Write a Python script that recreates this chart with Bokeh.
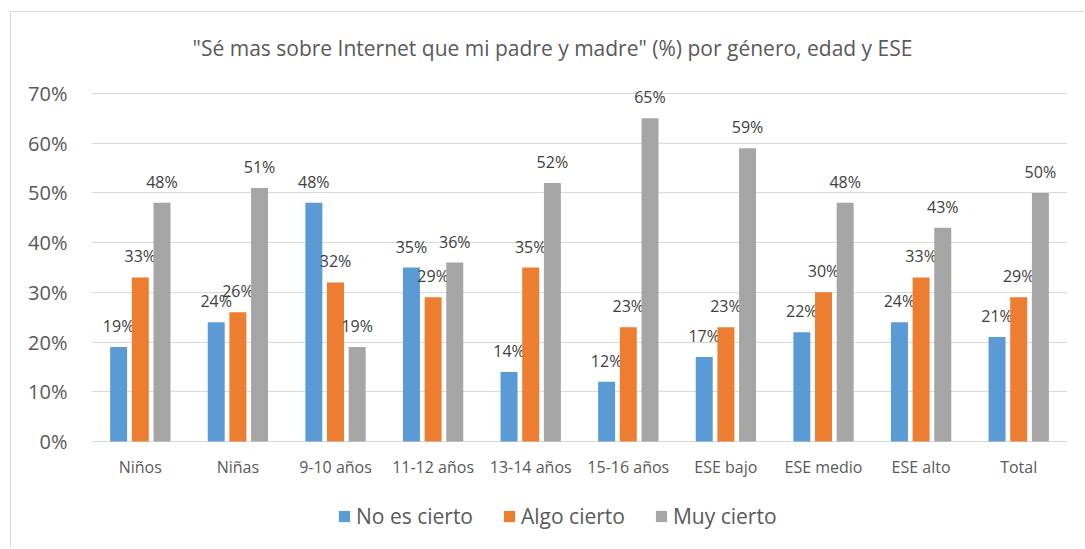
from bokeh.plotting import figure
from bokeh.models import (ColumnDataSource, FactorRange, Legend, LegendItem, Label,
                          FixedTicker, PrintfTickFormatter, Range1d)
from bokeh.transform import dodge
from bokeh.core.properties import value
from bokeh.embed import file_html
from bokeh.resources import INLINE

categories = ["Niños", "Niñas", "9-10 años", "11-12 años", "13-14 años",
              "15-16 años", "ESE bajo", "ESE medio", "ESE alto", "Total"]
no_es_cierto = [19, 24, 48, 35, 14, 12, 17, 22, 24, 21]
algo_cierto = [33, 26, 32, 29, 35, 23, 23, 30, 33, 29]
muy_cierto = [48, 51, 19, 36, 52, 65, 59, 48, 43, 50]
series_names = ["No es cierto", "Algo cierto", "Muy cierto"]
series_colors = ["#5B9BD5", "#ED7D31", "#A5A5A5"]
y_ticks = [0, 10, 20, 30, 40, 50, 60, 70]
title_text = '"Sé mas sobre Internet que mi padre y madre" (%) por género, edad y ESE'

FONT = "Open Sans"
TEXT_COLOR = "#595959"
GRID = "#D9D9D9"

# layout (pixels): plot frame covers the whole height so that the title and
# legend drawn inside it are not clipped; the value axis spans 0..70 between
# pixel rows 441 and 93 of the page.
W, H = 1074, 536
FRAME_TOP, FRAME_BOTTOM = 12, 12 + H
Y0_PX, Y70_PX = 441, 93
k = (Y0_PX - Y70_PX) / 70.0
y_start = -(FRAME_BOTTOM - Y0_PX) / k
y_end = 70 + (Y70_PX - FRAME_TOP) / k

source = ColumnDataSource(dict(
    cat=categories,
    zero=[0] * len(categories),
    s0=no_es_cierto, s1=algo_cierto, s2=muy_cierto,
    l0=[f"{v}%" for v in no_es_cierto],
    l1=[f"{v}%" for v in algo_cierto],
    l2=[f"{v}%" for v in muy_cierto],
))

p = figure(x_range=FactorRange(*categories), y_range=Range1d(y_start, y_end),
           width=W, height=H, output_backend="svg", toolbar_location=None,
           min_border_left=80, min_border_right=18, min_border_top=0,
           min_border_bottom=0)
p.styles = {"border-left": "1px solid #D9D9D9", "border-top": "1px solid #D9D9D9",
            "margin-left": "10px", "margin-top": "11px"}
p.outline_line_color = None
p.background_fill_color = "white"
p.border_fill_color = "white"

offsets = [-0.222, 0.0, 0.222]
bar_w = 0.174
renderers = []
for i, (name, color) in enumerate(zip(series_names, series_colors)):
    r = p.vbar(x=dodge("cat", offsets[i], range=p.x_range), top=f"s{i}", width=bar_w,
               source=source, fill_color=color, line_color=None)
    renderers.append(r)
    p.text(x=dodge("cat", offsets[i], range=p.x_range), y=f"s{i}", text=f"l{i}",
           source=source, text_align="center", text_baseline="middle", y_offset=-21,
           text_font=value(FONT), text_font_size="16px", text_color="#404040")

# category labels under the 0% line
p.text(x="cat", y="zero", text="cat", source=source, text_align="center",
       text_baseline="middle", y_offset=25, text_font=value(FONT),
       text_font_size="16px", text_color=TEXT_COLOR)

# axes
p.xgrid.visible = False
p.xaxis.visible = False
p.ygrid.ticker = FixedTicker(ticks=y_ticks)
p.ygrid.grid_line_color = GRID
p.ygrid.grid_line_width = 1

p.yaxis.ticker = FixedTicker(ticks=y_ticks)
p.yaxis.formatter = PrintfTickFormatter(format="%d%%")
p.yaxis.axis_line_color = None
p.yaxis.major_tick_line_color = None
p.yaxis.minor_tick_line_color = None
p.yaxis.major_tick_out = 0
p.yaxis.major_tick_in = 0
p.yaxis.major_label_standoff = 24
p.yaxis.major_label_text_font = FONT
p.yaxis.major_label_text_font_size = "20px"
p.yaxis.major_label_text_color = TEXT_COLOR

# title
title = Label(x=461, y=FRAME_BOTTOM - 47, x_units="screen", y_units="screen",
              text=title_text, text_align="center", text_baseline="middle",
              text_font=FONT, text_font_size="21px", text_color=TEXT_COLOR)
p.add_layout(title)

legend = Legend(items=[LegendItem(label=n, renderers=[r]) for n, r in zip(series_names, renderers)],
                orientation="horizontal", location=(246, 18),
                glyph_width=14, glyph_height=14, label_standoff=5, spacing=29,
                padding=0, margin=0, border_line_color=None, background_fill_alpha=0,
                label_text_font=FONT, label_text_font_size="21px",
                label_text_color=TEXT_COLOR)
p.add_layout(legend)

open("out.html", "w").write(file_html(p, INLINE))
